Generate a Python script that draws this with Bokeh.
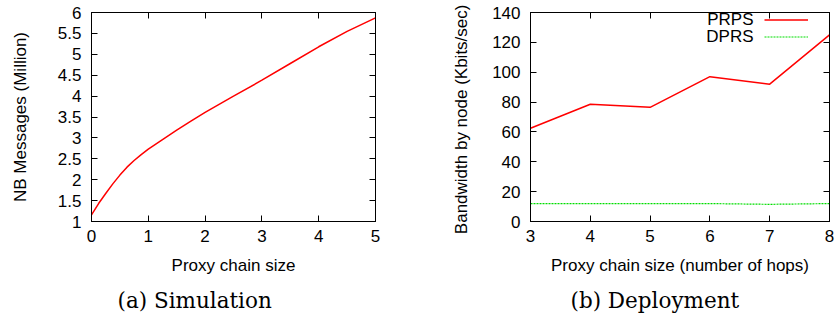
from bokeh.plotting import figure
from bokeh.layouts import row
from bokeh.models import (LinearAxis, Legend, LegendItem, Label, Title, FixedTicker,
                          CustomJSTickFormatter, Range1d)
from bokeh.embed import file_html
from bokeh.resources import INLINE

# ---- data ----
sim_x = [0, 0.125, 0.25, 0.375, 0.5, 0.625, 0.75, 0.875, 1, 1.25, 1.5, 1.75, 2,
         2.5, 3, 3.5, 4, 4.5, 5]
sim_y = [1.16, 1.43, 1.67, 1.90, 2.11, 2.30, 2.46, 2.60, 2.73, 2.96, 3.185, 3.40, 3.61,
         4.0, 4.38, 4.78, 5.18, 5.55, 5.87]
sim_xticks = [0, 1, 2, 3, 4, 5]
sim_yticks = [1, 1.5, 2, 2.5, 3, 3.5, 4, 4.5, 5, 5.5, 6]

hops = [3, 4, 5, 6, 7, 8]
prps = [62.5, 78.5, 76.5, 97, 92, 125]
dprs = [12, 12, 12, 12, 11.5, 12]
dep_xticks = [3, 4, 5, 6, 7, 8]
dep_yticks = [0, 20, 40, 60, 80, 100, 120, 140]

SANS = "Liberation Sans"
FS = "17px"
num_fmt = "return String(tick)"
blank_fmt = "return ''"


def style(p, xt, yt, xlabel, ylabel, caption, cap_offset, ylab_standoff):
    p.outline_line_color = "black"
    p.outline_line_width = 1
    p.xgrid.visible = False
    p.ygrid.visible = False
    p.background_fill_color = "white"
    p.border_fill_color = "white"
    for ax, ticks, lab in ((p.xaxis[0], xt, xlabel), (p.yaxis[0], yt, ylabel)):
        ax.ticker = FixedTicker(ticks=ticks)
        ax.formatter = CustomJSTickFormatter(code=num_fmt)
        ax.major_tick_in = 6
        ax.major_tick_out = 0
        ax.minor_tick_line_color = None
        ax.axis_line_color = "black"
        ax.major_label_text_font = SANS
        ax.major_label_text_font_size = FS
        ax.major_label_text_color = "black"
        ax.axis_label = lab
        ax.axis_label_text_font = SANS
        ax.axis_label_text_font_size = FS
        ax.axis_label_text_font_style = "normal"
        ax.axis_label_text_color = "black"
    p.xaxis[0].major_label_standoff = 8
    p.yaxis[0].major_label_standoff = 10
    p.xaxis[0].axis_label_standoff = 11
    p.yaxis[0].axis_label_standoff = ylab_standoff
    # mirrored ticks on top and right
    for side, ticks in (("above", xt), ("right", yt)):
        ax = LinearAxis(ticker=FixedTicker(ticks=ticks),
                        formatter=CustomJSTickFormatter(code=blank_fmt),
                        major_tick_in=6, major_tick_out=0,
                        minor_tick_line_color=None,
                        major_label_text_font_size="1px",
                        major_label_standoff=0,
                        axis_line_color="black")
        p.add_layout(ax, side)
    t = Title(text=caption, align="left", offset=cap_offset,
              text_font="DejaVu Serif", text_font_size="21.5px",
              text_font_style="normal", text_color="black", standoff=16)
    p.add_layout(t, "below")


# ---- (a) Simulation ----
p1 = figure(width=420, height=320, output_backend="svg", toolbar_location=None,
            x_range=Range1d(0, 5), y_range=Range1d(1, 6),
            min_border_left=91, min_border_right=45, min_border_top=12,
            min_border_bottom=94)
p1.line(sim_x, sim_y, line_color="#ff0000", line_width=1.5)
style(p1, sim_xticks, sim_yticks, "Proxy chain size", "NB Messages (Million)",
      "(a) Simulation", 26, 25)

# ---- (b) Deployment ----
p2 = figure(width=418, height=320, output_backend="svg", toolbar_location=None,
            x_range=Range1d(3, 8), y_range=Range1d(0, 140),
            min_border_left=110, min_border_right=9, min_border_top=12,
            min_border_bottom=94)
r1 = p2.line(hops, prps, line_color="#ff0000", line_width=1.5)
r2 = p2.line(hops, dprs, line_color="#00dd00", line_width=1.2, line_dash="2 1")
style(p2, dep_xticks, dep_yticks, "Proxy chain size (number of hops)",
      "Bandwidth by  node (Kbits/sec)", "(b) Deployment", 40, 18)

leg = Legend(items=[LegendItem(label="", renderers=[r1]),
                    LegendItem(label="", renderers=[r2])],
             location=(234, 176), glyph_width=44, glyph_height=17,
             label_width=0, label_standoff=0, label_height=17,
             label_text_font_size="10px", spacing=0, padding=0, margin=0,
             border_line_color=None, background_fill_alpha=0)
p2.add_layout(leg, "center")
for txt, yy in (("PRPS", 202), ("DPRS", 185)):
    p2.add_layout(Label(x=223, y=yy, x_units="screen", y_units="screen", text=txt,
                        text_align="right", text_baseline="middle",
                        text_font=SANS, text_font_size=FS, text_color="black"))

layout = row(p1, p2)
open("out.html", "w").write(file_html(layout, INLINE))
